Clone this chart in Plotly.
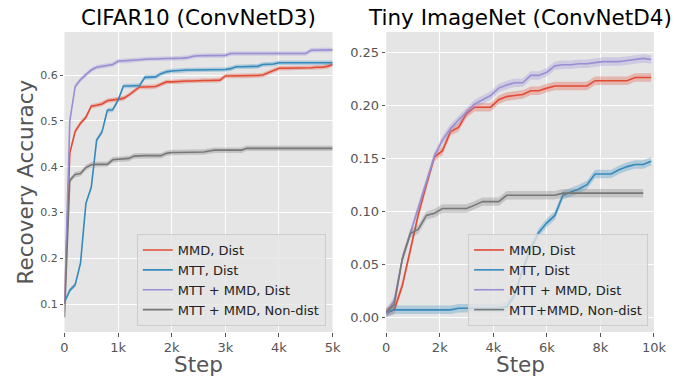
import plotly.graph_objects as go

# ---------------- data ----------------
# CIFAR10 (ConvNetD3): steps every 100
cifar_steps = list(range(0, 5001, 100))
cifar_mmd = [0.10, 0.43, 0.477, 0.495, 0.508, 0.532, 0.534, 0.537, 0.544, 0.546,
             0.547, 0.549, 0.556, 0.565, 0.574, 0.574, 0.574, 0.575, 0.580, 0.585,
             0.585, 0.586, 0.586, 0.587, 0.587, 0.588, 0.588, 0.588, 0.588, 0.589,
             0.598, 0.598, 0.598, 0.598, 0.598, 0.598, 0.599, 0.600, 0.605, 0.610,
             0.615, 0.615, 0.615, 0.616, 0.616, 0.616, 0.616, 0.617, 0.617, 0.619,
             0.623]
cifar_mtt = [0.104, 0.13, 0.142, 0.19, 0.32, 0.355, 0.458, 0.476, 0.523, 0.524,
             0.545, 0.576, 0.576, 0.576, 0.577, 0.595, 0.595, 0.596, 0.603, 0.607,
             0.609, 0.610, 0.610, 0.611, 0.611, 0.611, 0.611, 0.611, 0.612, 0.612,
             0.612, 0.614, 0.618, 0.618, 0.618, 0.618, 0.619, 0.623, 0.623, 0.624,
             0.627, 0.627, 0.627, 0.627, 0.627, 0.627, 0.627, 0.627, 0.627, 0.627,
             0.627]
cifar_both = [0.10, 0.50, 0.575, 0.590, 0.601, 0.611, 0.617, 0.619, 0.621, 0.623,
              0.630, 0.631, 0.631, 0.632, 0.634, 0.635, 0.635, 0.635, 0.636, 0.636,
              0.636, 0.636, 0.637, 0.638, 0.641, 0.642, 0.642, 0.642, 0.643, 0.643,
              0.643, 0.647, 0.647, 0.647, 0.647, 0.647, 0.647, 0.647, 0.647, 0.647,
              0.647, 0.647, 0.647, 0.647, 0.647, 0.647, 0.654, 0.654, 0.654, 0.655,
              0.655]
cifar_nondist = [0.071, 0.37, 0.383, 0.385, 0.398, 0.404, 0.405, 0.405, 0.405, 0.415,
                 0.416, 0.417, 0.418, 0.423, 0.424, 0.424, 0.424, 0.424, 0.424, 0.429,
                 0.431, 0.431, 0.431, 0.432, 0.432, 0.432, 0.432, 0.434, 0.436, 0.436,
                 0.436, 0.436, 0.436, 0.436, 0.440, 0.440, 0.440, 0.440, 0.440, 0.440,
                 0.440, 0.440, 0.440, 0.440, 0.440, 0.440, 0.440, 0.440, 0.440, 0.440,
                 0.440]
cifar_std = {"mmd": 0.005, "mtt": 0.005, "both": 0.005, "nondist": 0.006}

# Tiny ImageNet (ConvNetD4): steps every 300
tiny_steps = list(range(0, 9901, 300))
tiny_steps_nondist = list(range(0, 9601, 300))
tiny_mmd = [0.005, 0.007, 0.030, 0.062, 0.097, 0.125, 0.151, 0.157, 0.175, 0.179,
            0.192, 0.198, 0.198, 0.198, 0.205, 0.208, 0.209, 0.210, 0.2135, 0.2135,
            0.216, 0.218, 0.218, 0.218, 0.218, 0.218, 0.223, 0.223, 0.223, 0.223,
            0.223, 0.226, 0.226, 0.226]
tiny_mtt = [0.004, 0.007, 0.007, 0.007, 0.007, 0.007, 0.007, 0.007, 0.007, 0.0085,
            0.0085, 0.0085, 0.0085, 0.0085, 0.0085, 0.010, 0.021, 0.045, 0.065, 0.080,
            0.089, 0.096, 0.115, 0.118, 0.121, 0.125, 0.135, 0.135, 0.135, 0.139,
            0.142, 0.144, 0.144, 0.147]
tiny_both = [0.003, 0.016, 0.055, 0.079, 0.104, 0.127, 0.152, 0.167, 0.178, 0.186,
             0.194, 0.201, 0.205, 0.209, 0.216, 0.219, 0.221, 0.221, 0.228, 0.228,
             0.231, 0.237, 0.238, 0.238, 0.239, 0.239, 0.240, 0.241, 0.241, 0.241,
             0.242, 0.243, 0.244, 0.243]
tiny_nondist = [0.005, 0.012, 0.055, 0.079, 0.083, 0.096, 0.098, 0.1025, 0.1025, 0.1025,
                0.1025, 0.1057, 0.109, 0.109, 0.109, 0.115, 0.115, 0.115, 0.115, 0.115,
                0.115, 0.115, 0.117, 0.117, 0.117, 0.117, 0.117, 0.117, 0.117, 0.117,
                0.117, 0.117, 0.117]
tiny_std = {"mmd": 0.004, "mtt": 0.004, "both": 0.004, "nondist": 0.004}

cifar_ticks = [0, 1000, 2000, 3000, 4000, 5000]
cifar_ticktext = ["0", "1k", "2k", "3k", "4k", "5k"]
tiny_ticks = [0, 2000, 4000, 6000, 8000, 10000]
tiny_ticktext = ["0", "2k", "4k", "6k", "8k", "10k"]

COLORS = {"mmd": (226, 74, 51), "mtt": (52, 138, 189), "both": (152, 142, 213), "nondist": (119, 119, 119)}

fig = go.Figure()


def add_series(steps, vals, sd, key, name, xa, ya, legend):
    r, g, b = COLORS[key]
    upper = [v + sd for v in vals]
    lower = [v - sd for v in vals]
    fig.add_trace(go.Scatter(x=list(steps) + list(steps)[::-1], y=upper + lower[::-1],
                             fill="toself", fillcolor=f"rgba({r},{g},{b},0.3)",
                             line=dict(width=0), hoverinfo="skip", showlegend=False,
                             xaxis=xa, yaxis=ya))
    fig.add_trace(go.Scatter(x=steps, y=vals, mode="lines", name=name,
                             line=dict(color=f"rgb({r},{g},{b})", width=1.6),
                             xaxis=xa, yaxis=ya, legend=legend))


add_series(cifar_steps, cifar_mmd, cifar_std["mmd"], "mmd", "MMD, Dist", "x", "y", "legend")
add_series(cifar_steps, cifar_mtt, cifar_std["mtt"], "mtt", "MTT, Dist", "x", "y", "legend")
add_series(cifar_steps, cifar_both, cifar_std["both"], "both", "MTT + MMD, Dist", "x", "y", "legend")
add_series(cifar_steps, cifar_nondist, cifar_std["nondist"], "nondist", "MTT + MMD, Non-dist", "x", "y", "legend")

add_series(tiny_steps, tiny_mmd, tiny_std["mmd"], "mmd", "MMD, Dist", "x2", "y2", "legend2")
add_series(tiny_steps, tiny_mtt, tiny_std["mtt"], "mtt", "MTT, Dist", "x2", "y2", "legend2")
add_series(tiny_steps, tiny_both, tiny_std["both"], "both", "MTT + MMD, Dist", "x2", "y2", "legend2")
add_series(tiny_steps_nondist, tiny_nondist, tiny_std["nondist"], "nondist", "MTT+MMD, Non-dist", "x2", "y2", "legend2")

W, H = 683, 377
ydom = [(H - 332) / H, (H - 32) / H]
dom1 = [62 / W, 337 / W]
dom2 = [392 / W, 666.5 / W]

FONT = "DejaVu Sans"
axis_common = dict(showgrid=True, gridcolor="white", gridwidth=1, zeroline=False,
                   showline=False, ticks="outside", ticklen=3.5, tickcolor="#555555",
                   tickfont=dict(family=FONT, size=13, color="#555555"))

fig.update_layout(
    width=W, height=H,
    margin=dict(l=0, r=0, t=0, b=0),
    paper_bgcolor="white", plot_bgcolor="#E5E5E5",
    font=dict(family=FONT, color="#555555"),
    xaxis=dict(domain=dom1, anchor="y", range=[0, 5000], tickvals=cifar_ticks,
               ticktext=cifar_ticktext, **axis_common),
    yaxis=dict(domain=ydom, anchor="x", range=[0.039, 0.694],
               tickvals=[0.1, 0.2, 0.3, 0.4, 0.5, 0.6], tickformat=".1f",
               **{**axis_common, "tickfont": dict(family=FONT, size=11, color="#555555")}),
    xaxis2=dict(domain=dom2, anchor="y2", range=[0, 10000], tickvals=tiny_ticks,
                ticktext=tiny_ticktext, **axis_common),
    yaxis2=dict(domain=ydom, anchor="x2", range=[-0.0139, 0.2689],
                tickvals=[0.0, 0.05, 0.10, 0.15, 0.20, 0.25], tickformat=".2f", **axis_common),
    legend=dict(x=330 / W, y=(H - 326) / H, xanchor="right", yanchor="bottom",
                bgcolor="rgba(229,229,229,0.8)", bordercolor="#CCCCCC", borderwidth=1,
                font=dict(family=FONT, size=13, color="#222222"), tracegroupgap=0,
                itemwidth=30),
    legend2=dict(x=660.5 / W, y=(H - 326) / H, xanchor="right", yanchor="bottom",
                 bgcolor="rgba(229,229,229,0.8)", bordercolor="#CCCCCC", borderwidth=1,
                 font=dict(family=FONT, size=13, color="#222222"), tracegroupgap=0,
                 itemwidth=30),
    annotations=[
        dict(text="CIFAR10 (ConvNetD3)", x=(dom1[0] + dom1[1]) / 2, y=(H - 17) / H,
             xref="paper", yref="paper", showarrow=False, xanchor="center", yanchor="middle",
             font=dict(family=FONT, size=21.5, color="black")),
        dict(text="Tiny ImageNet (ConvNetD4)", x=(dom2[0] + dom2[1]) / 2, y=(H - 17) / H,
             xref="paper", yref="paper", showarrow=False, xanchor="center", yanchor="middle",
             font=dict(family=FONT, size=21.5, color="black")),
        dict(text="Step", x=(dom1[0] + dom1[1]) / 2, y=(H - 364) / H,
             xref="paper", yref="paper", showarrow=False, xanchor="center", yanchor="middle",
             font=dict(family=FONT, size=21.5, color="#555555")),
        dict(text="Step", x=(dom2[0] + dom2[1]) / 2, y=(H - 364) / H,
             xref="paper", yref="paper", showarrow=False, xanchor="center", yanchor="middle",
             font=dict(family=FONT, size=21.5, color="#555555")),
        dict(text="Recovery Accuracy", x=22 / W, y=(ydom[0] + ydom[1]) / 2, textangle=-90,
             xref="paper", yref="paper", showarrow=False, xanchor="center", yanchor="middle",
             font=dict(family=FONT, size=21.5, color="#555555")),
    ],
)

fig.write_html("out.html", config={"displayModeBar": False},
               post_script="document.body.style.margin='0';document.body.style.overflow='hidden';")
